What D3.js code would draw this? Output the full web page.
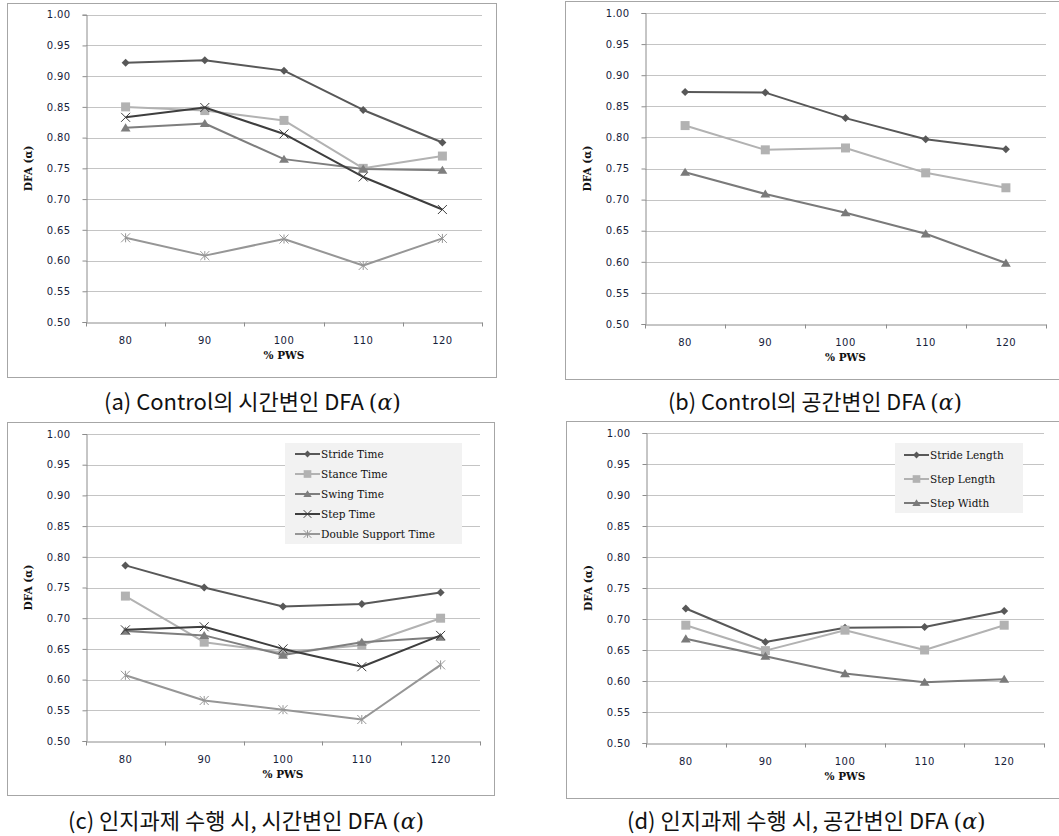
<!DOCTYPE html>
<html>
<head>
<meta charset="utf-8">
<script src="https://cdn.jsdelivr.net/npm/d3@7"></script>
<style>
  html,body{margin:0;padding:0;background:#fff;}
  svg{display:block;}
</style>
</head>
<body>
<svg id="chart" width="1059" height="836"></svg>
<script>
// ---------- DATA ----------
const categories = [80, 90, 100, 110, 120];
const yTickValues = [0.50, 0.55, 0.60, 0.65, 0.70, 0.75, 0.80, 0.85, 0.90, 0.95, 1.00];
const xTitle = "% PWS";
const yTitle = "DFA (\u03b1)";

const timeSeriesNames = ["Stride Time", "Stance Time", "Swing Time", "Step Time", "Double Support Time"];
const spaceSeriesNames = ["Stride Length", "Step Length", "Step Width"];

// (a) Control, temporal variables
const aStrideTime   = [0.922, 0.926, 0.909, 0.845, 0.792];
const aStanceTime   = [0.850, 0.844, 0.828, 0.750, 0.770];
const aSwingTime    = [0.816, 0.823, 0.765, 0.749, 0.747];
const aStepTime     = [0.833, 0.849, 0.806, 0.736, 0.683];
const aDoubleSupport= [0.637, 0.608, 0.635, 0.592, 0.636];

// (b) Control, spatial variables
const bStrideLength = [0.873, 0.872, 0.831, 0.797, 0.781];
const bStepLength   = [0.819, 0.780, 0.783, 0.743, 0.719];
const bStepWidth    = [0.744, 0.709, 0.679, 0.645, 0.598];

// (c) Cognitive task, temporal variables
const cStrideTime   = [0.786, 0.750, 0.719, 0.723, 0.742];
const cStanceTime   = [0.736, 0.661, 0.644, 0.656, 0.700];
const cSwingTime    = [0.679, 0.672, 0.640, 0.661, 0.669];
const cStepTime     = [0.681, 0.686, 0.650, 0.621, 0.672];
const cDoubleSupport= [0.607, 0.566, 0.551, 0.535, 0.624];

// (d) Cognitive task, spatial variables
const dStrideLength = [0.717, 0.663, 0.686, 0.687, 0.713];
const dStepLength   = [0.690, 0.649, 0.682, 0.650, 0.690];
const dStepWidth    = [0.668, 0.640, 0.612, 0.598, 0.603];

const captions = [
  "(a) Control\uc758 \uc2dc\uac04\ubcc0\uc778 DFA ",
  "(b) Control\uc758 \uacf5\uac04\ubcc0\uc778 DFA ",
  "(c) \uc778\uc9c0\uacfc\uc81c \uc218\ud589 \uc2dc, \uc2dc\uac04\ubcc0\uc778 DFA ",
  "(d) \uc778\uc9c0\uacfc\uc81c \uc218\ud589 \uc2dc, \uacf5\uac04\ubcc0\uc778 DFA "
];

// ---------- STYLES ----------
const timeStyles = [
  {color:"#585858", marker:"diamond"},
  {color:"#b2b2b2", marker:"square"},
  {color:"#7e7e7e", marker:"triangle"},
  {color:"#3e3e3e", marker:"x"},
  {color:"#969696", marker:"asterisk"}
];
const spaceStyles = [
  {color:"#585858", marker:"diamond"},
  {color:"#b2b2b2", marker:"square"},
  {color:"#7a7a7a", marker:"triangle"}
];

const panels = [
  {border:{x:7,y:3,w:489,h:374}, plot:{l:86,r:482,t:14.7,b:322}, series:[aStrideTime,aStanceTime,aSwingTime,aStepTime,aDoubleSupport], names:timeSeriesNames, styles:timeStyles, legend:null,
   caption:{text:captions[0], x:104, y:410, w:298}},
  {border:{x:565,y:1,w:520,h:378}, plot:{l:645,r:1046,t:13,b:324}, series:[bStrideLength,bStepLength,bStepWidth], names:spaceSeriesNames, styles:spaceStyles, legend:null,
   caption:{text:captions[1], x:668, y:410, w:294}},
  {border:{x:7,y:422,w:487,h:373}, plot:{l:86,r:480,t:434,b:741}, series:[cStrideTime,cStanceTime,cSwingTime,cStepTime,cDoubleSupport], names:timeSeriesNames, styles:timeStyles,
   legend:{x:285,y:443,w:177,h:101,y0:454,dy:20,lx0:295,lx1:320},
   caption:{text:captions[2], x:68, y:829, w:365}},
  {border:{x:566,y:421,w:520,h:377}, plot:{l:646,r:1044,t:433,b:743}, series:[dStrideLength,dStepLength,dStepWidth], names:spaceSeriesNames, styles:spaceStyles,
   legend:{x:895,y:443,w:128,h:70,y0:455,dy:24,lx0:904,lx1:929},
   caption:{text:captions[3], x:627, y:829, w:368}}
];

const svg = d3.select("#chart");

function markerPath(type, s) {
  const p = d3.path();
  if (type === "diamond") {
    p.moveTo(0,-s); p.lineTo(s,0); p.lineTo(0,s); p.lineTo(-s,0); p.closePath();
  } else if (type === "square") {
    p.rect(-s,-s,2*s,2*s);
  } else if (type === "triangle") {
    p.moveTo(0,-s); p.lineTo(s*1.1,s*0.8); p.lineTo(-s*1.1,s*0.8); p.closePath();
  } else if (type === "x") {
    p.moveTo(-s,-s); p.lineTo(s,s); p.moveTo(s,-s); p.lineTo(-s,s);
  } else if (type === "asterisk") {
    p.moveTo(-s,-s); p.lineTo(s,s); p.moveTo(s,-s); p.lineTo(-s,s);
    p.moveTo(0,-s); p.lineTo(0,s);
  }
  return p.toString();
}
const markerSize = {diamond:4, square:4.5, triangle:4.5, x:4.5, asterisk:4.5};
const strokeMarker = {x:true, asterisk:true};

function drawMarker(g, type, color, cx, cy, scale) {
  const s = markerSize[type] * (scale || 1);
  const m = g.append("path").attr("d", markerPath(type, s)).attr("transform", `translate(${cx},${cy})`);
  if (strokeMarker[type]) m.attr("fill","none").attr("stroke",color).attr("stroke-width",1);
  else m.attr("fill",color).attr("stroke","none");
}

panels.forEach(pn => {
  const g = svg.append("g");
  // border
  g.append("rect").attr("x",pn.border.x+0.5).attr("y",pn.border.y+0.5)
    .attr("width",pn.border.w).attr("height",pn.border.h)
    .attr("fill","#fff").attr("stroke","#a6a6a6").attr("stroke-width",1);

  const x = d3.scaleBand().domain(categories).range([pn.plot.l, pn.plot.r]);
  const y = d3.scaleLinear().domain([0.5, 1.0]).range([pn.plot.b, pn.plot.t]);

  // gridlines
  g.append("g").selectAll("line").data(yTickValues.slice(1)).join("line")
    .attr("x1", pn.plot.l).attr("x2", pn.plot.r)
    .attr("y1", d => Math.round(y(d))+0.5).attr("y2", d => Math.round(y(d))+0.5)
    .attr("stroke","#c4c4c4").attr("stroke-width",1);

  // y axis
  const yAxis = d3.axisLeft(y).tickValues(yTickValues).tickFormat(d3.format(".2f")).tickSize(4).tickPadding(12);
  const ya = g.append("g").attr("transform",`translate(${Math.round(pn.plot.l)+0.5},0)`).call(yAxis);
  ya.select(".domain").attr("stroke","#8c8c8c");
  ya.selectAll(".tick line").attr("stroke","#8c8c8c");
  ya.selectAll(".tick text").attr("font-family","'DejaVu Sans', Verdana, sans-serif")
    .attr("font-size","10px").attr("letter-spacing","0.4px").attr("fill","#15213a");

  // x axis
  const xAxis = d3.axisBottom(x).tickSize(0).tickPadding(14);
  const xa = g.append("g").attr("transform",`translate(0,${Math.round(pn.plot.b)+0.5})`).call(xAxis);
  xa.select(".domain").attr("stroke","#8c8c8c");
  xa.selectAll(".tick text").attr("font-family","'DejaVu Sans', Verdana, sans-serif")
    .attr("font-size","10px").attr("letter-spacing","0.4px").attr("fill","#15213a");
  // band-edge tick marks
  const edges = categories.map(c => x(c)).concat([x(categories[categories.length-1]) + x.bandwidth()]);
  xa.append("g").selectAll("line").data(edges).join("line")
    .attr("x1", d => Math.round(d)+0.5).attr("x2", d => Math.round(d)+0.5)
    .attr("y1", 0).attr("y2", 4).attr("stroke","#8c8c8c");

  // axis titles
  g.append("text").attr("x",(pn.plot.l+pn.plot.r)/2).attr("y",pn.plot.b+37)
    .attr("text-anchor","middle").attr("font-family","'DejaVu Serif', Cambria, serif")
    .attr("font-weight","bold").attr("font-size","10.5px").attr("fill","#111").text(xTitle);
  g.append("text").attr("transform",`translate(${pn.plot.l-54},${(pn.plot.t+pn.plot.b)/2}) rotate(-90)`)
    .attr("text-anchor","middle").attr("font-family","'DejaVu Serif', Cambria, serif")
    .attr("font-weight","bold").attr("font-size","10.5px").attr("fill","#111").text(yTitle);

  // series
  const line = d3.line().x((d,i) => x(categories[i]) + x.bandwidth()/2).y(d => y(d));
  pn.series.forEach((vals, si) => {
    const st = pn.styles[si];
    const sg = g.append("g");
    sg.append("path").datum(vals).attr("d", line).attr("fill","none")
      .attr("stroke", st.color).attr("stroke-width", 2).attr("stroke-linejoin","round");
    vals.forEach((v,i) => drawMarker(sg, st.marker, st.color, x(categories[i]) + x.bandwidth()/2, y(v)));
  });

  // legend
  if (pn.legend) {
    const L = pn.legend;
    const lg = g.append("g");
    lg.append("rect").attr("x",L.x).attr("y",L.y).attr("width",L.w).attr("height",L.h).attr("fill","#f2f2f2");
    pn.names.forEach((nm, i) => {
      const st = pn.styles[i];
      const yy = L.y0 + i*L.dy;
      lg.append("line").attr("x1",L.lx0).attr("x2",L.lx1).attr("y1",yy).attr("y2",yy)
        .attr("stroke",st.color).attr("stroke-width",2);
      drawMarker(lg, st.marker, st.color, (L.lx0+L.lx1)/2, yy, 0.85);
      lg.append("text").attr("x",L.lx1+1).attr("y",yy+3.5)
        .attr("font-family","'DejaVu Serif', Cambria, serif").attr("font-size","10.5px")
        .attr("fill","#111").text(nm);
    });
  }

  // caption: size the font so that natural width matches the reference width
  const C = pn.caption;
  const t = g.append("text").attr("x",C.x).attr("y",C.y)
    .attr("font-family","'Noto Sans CJK KR', 'Noto Sans', sans-serif").attr("font-size","20px")
    .attr("fill","#111");
  t.append("tspan").text(C.text);
  t.append("tspan").attr("font-family","'DejaVu Serif', serif").text("(");
  t.append("tspan").attr("font-family","'DejaVu Serif', serif").attr("font-style","italic").text("\u03b1");
  t.append("tspan").attr("font-family","'DejaVu Serif', serif").text(")");
  const w0 = t.node().getComputedTextLength();
  if (w0 > 0) {
    const fs = Math.min(22, 20 * C.w / w0);
    t.attr("font-size", fs + "px");
  }
});
</script>
</body>
</html>
